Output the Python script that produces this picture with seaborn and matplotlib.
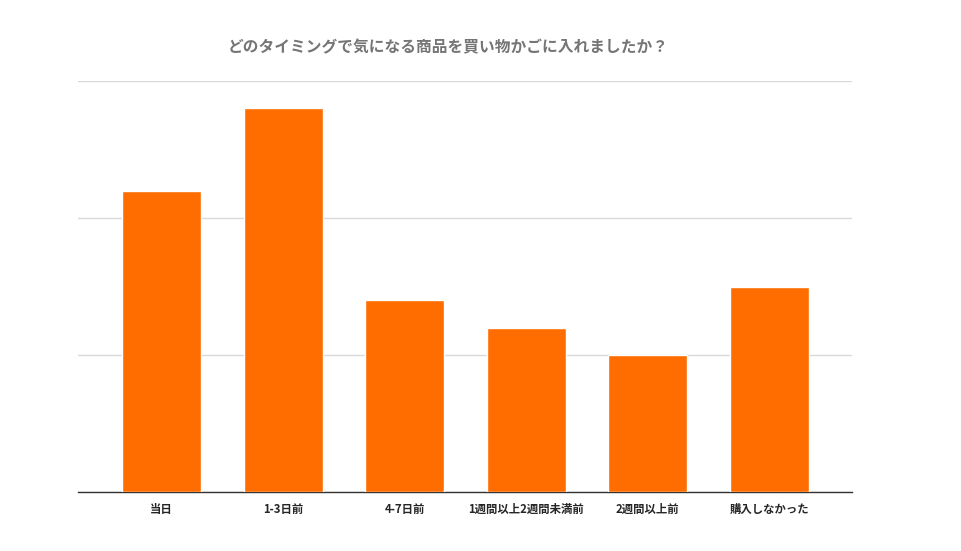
import pandas as pd
import seaborn as sns
import matplotlib.pyplot as plt

sns.set_theme(style="white")
plt.rcParams['font.family'] = ['Noto Sans CJK JP', 'DejaVu Sans']

categories = ["当日", "1-3日前", "4-7日前", "1週間以上2週間未満前", "2週間以上前", "購入しなかった"]
values = [22, 28, 14, 12, 10, 15]
title = "どのタイミングで気になる商品を買い物かごに入れましたか？"

df = pd.DataFrame({"timing": categories, "count": values})

fig = plt.figure(figsize=(9.62, 5.51), dpi=100)
ax = fig.add_axes([78/962, 1 - 492/551, (852 - 78)/962, (492 - 81)/551])
sns.barplot(ax=ax, data=df, x="timing", y="count", color="#ff6d01",
            saturation=1, width=0.65, zorder=3)

ax.set_ylim(0, 30)
ax.set_yticks([0, 10, 20, 30])
ax.set_yticklabels([])
ax.set_xlim(-0.687, 5.68)
ax.yaxis.grid(True, color="#d9d9d9", linewidth=1, zorder=0)
ax.set(xlabel="", ylabel="")
for s in ["top", "right", "left"]:
    ax.spines[s].set_visible(False)
ax.spines["bottom"].set_color("#333333")
ax.spines["bottom"].set_linewidth(1)
ax.tick_params(axis="x", length=0, pad=8, labelsize=8.2)
ax.tick_params(axis="y", length=0)
for lbl in ax.get_xticklabels():
    lbl.set_fontweight("bold")

fig.text(228/962, 1 - 47/551, title, fontsize=11.3, fontweight="bold",
         color="#757575", ha="left", va="center")

fig.savefig("out.png", dpi=100)
